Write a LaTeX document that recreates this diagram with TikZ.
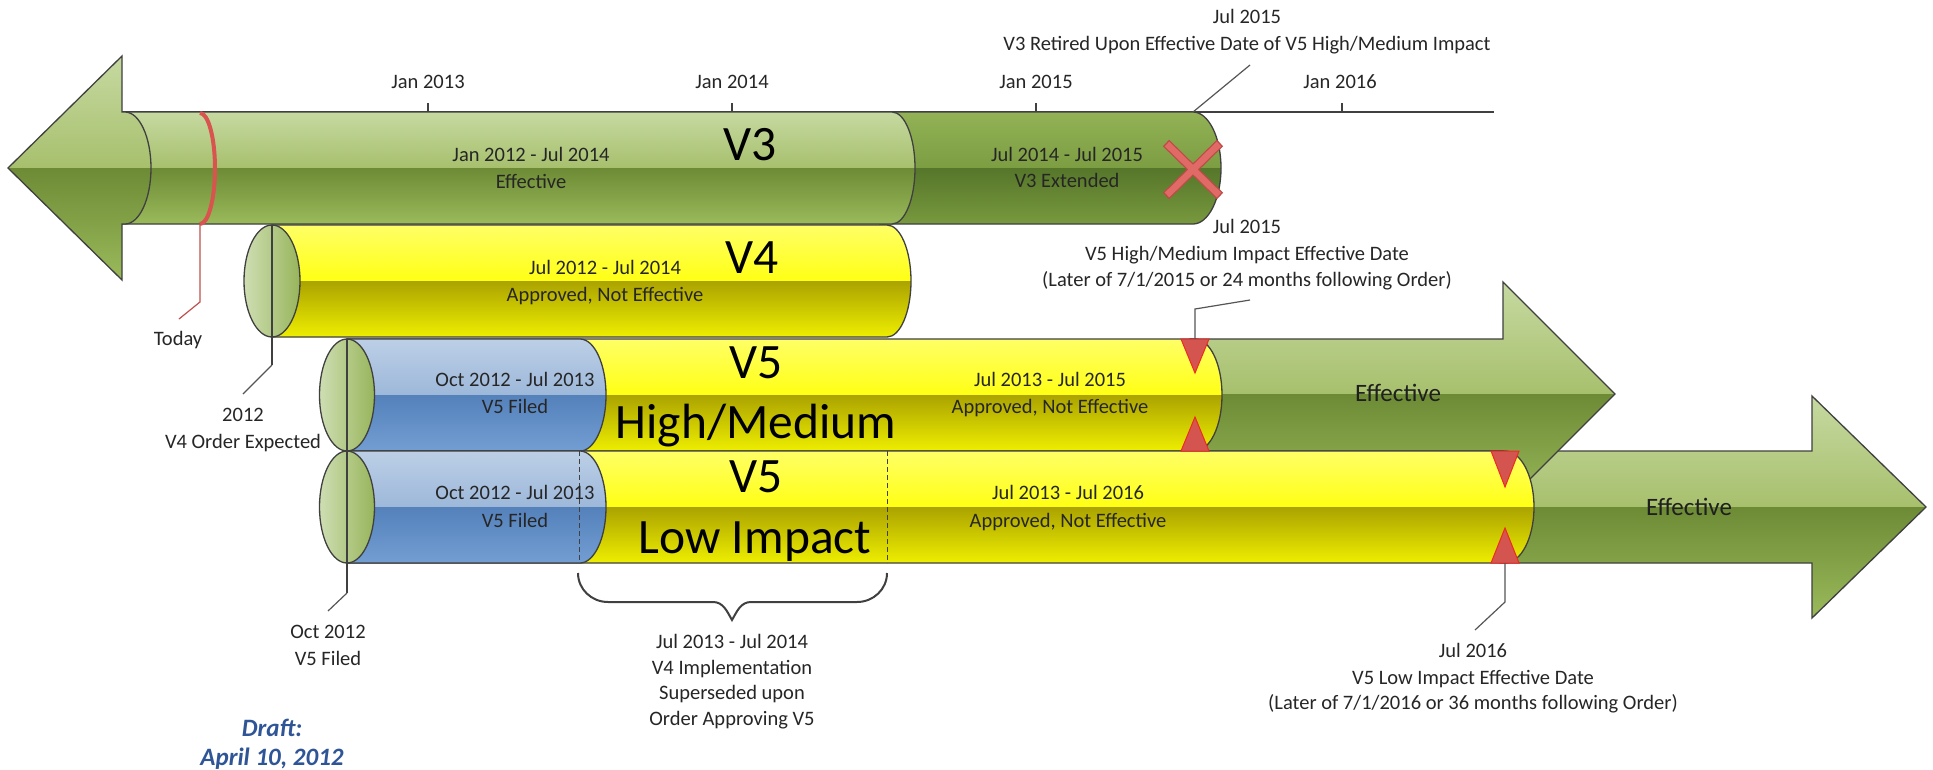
\documentclass[tikz,border=0pt]{standalone}
\usepackage{fontspec}
\setmainfont{Carlito}
\usetikzlibrary{calc}
\definecolor{outl}{HTML}{404040}
\definecolor{callc}{HTML}{555555}
\definecolor{txt}{HTML}{262626}
\definecolor{gA}{HTML}{C6D9A1}
\definecolor{gB}{HTML}{A7C06D}
\definecolor{gC}{HTML}{6D8B35}
\definecolor{gD}{HTML}{9ABA5B}
\definecolor{dA}{HTML}{93B256}
\definecolor{dB}{HTML}{7C9D42}
\definecolor{dC}{HTML}{56762A}
\definecolor{dD}{HTML}{78993E}
\definecolor{yA}{HTML}{FFFF66}
\definecolor{yB}{HTML}{FFFF14}
\definecolor{yC}{HTML}{ABA300}
\definecolor{yD}{HTML}{EEEE00}
\definecolor{bA}{HTML}{BCCFE6}
\definecolor{bB}{HTML}{9DB8DA}
\definecolor{bC}{HTML}{5581BB}
\definecolor{bD}{HTML}{729ED3}
\definecolor{capL}{HTML}{CFDEB3}
\definecolor{capR}{HTML}{97B55B}
\definecolor{redl}{HTML}{D9534F}
\definecolor{thinred}{HTML}{C0504D}
\definecolor{triF}{HTML}{D45550}
\definecolor{triD}{HTML}{EE2A24}
\definecolor{xF}{HTML}{E06A66}
\definecolor{xD}{HTML}{BF4A47}
\definecolor{draftc}{HTML}{2F5597}
\newcommand\fsmall{\fontsize{20.5}{25}\selectfont}
\newcommand\fbig{\fontsize{49.5}{58}\selectfont}
\newcommand\feff{\fontsize{25}{30}\selectfont}
\newcommand\fdraft{\fontsize{25}{30}\selectfont\bfseries\itshape}
% tube: path, ytop, ybot, 4 colours (top half top/bottom, bottom half top/bottom)
\newcommand\tube[7]{%
  \begin{scope}
    \clip #1;
    \shade[top color=#4,bottom color=#5] (0,#2) rectangle (1933,{(#2+#3)/2});
    \shade[top color=#6,bottom color=#7] (0,{(#2+#3)/2}) rectangle (1933,#3);
  \end{scope}
  \draw[outline] #1;}
\newcommand\txtat[4]{\node[lbl,anchor=base] (#1) at (#2,#3+6.6) {#4};}
\newcommand\bigat[4]{\node[bigl,anchor=base] (#1) at (#2,#3) {#4};}
\newcommand\effat[4]{\node[effl,anchor=base] (#1) at (#2,#3+8) {#4};}
\begin{document}
\begin{tikzpicture}[x=1pt,y=-1pt,
  outline/.style={draw=outl,line width=1.3pt},
  callout/.style={draw=callc,line width=1.2pt},
  lbl/.style={font=\fsmall,text=txt,inner sep=0pt},
  bigl/.style={font=\fbig,text=black,inner sep=0pt},
  effl/.style={font=\feff,text=black!88,inner sep=0pt},
  draftl/.style={font=\fdraft,text=draftc,inner sep=0pt},
  tri/.style={fill=triF,draw=triD,line width=1pt},
  dashv/.style={draw=outl,line width=1pt,dash pattern=on 5pt off 3pt}]
\useasboundingbox (0,0) rectangle (1933,769);
\fill[white] (0,0) rectangle (1933,769);

% ---------- time axis ----------
\coordinate (axL) at (122,112);
\coordinate (axR) at (1494,112);
\draw[outline] (axL) -- (axR);
\foreach \x in {428,732,1036,1342} \draw[outline] (\x,103) -- (\x,112);

% ---------- V3 ----------
\tube{(880,112) -- (1193,112) arc[start angle=-90,end angle=90,x radius=28,y radius=56] -- (880,224) -- cycle}{112}{224}{dA}{dB}{dC}{dD}
\tube{(122,112) -- (892,112) arc[start angle=-90,end angle=90,x radius=23,y radius=56] -- (122,224) -- cycle}{112}{224}{gA}{gB}{gC}{gD}
\tube{(8,168) -- (122,56) -- (122,112) -- (125,112) arc[start angle=-90,end angle=90,x radius=26,y radius=56] -- (122,224) -- (122,280) -- cycle}{56}{280}{gA}{gB}{gC}{gD}

% Today marker
\draw[redl,line width=4pt] (200,113) arc[start angle=-90,end angle=90,x radius=15,y radius=55.5];
\coordinate (todayA) at (200,224);
\coordinate (todayB) at (200,302);
\coordinate (todayC) at (179,319);
\draw[thinred,line width=1.2pt] (todayA) -- (todayB) -- (todayC);

% retired X
\draw[xD,line width=9pt] (1166,143) -- (1220,196) (1166,196) -- (1220,143);
\draw[xF,line width=6.5pt] (1167,144) -- (1219,195) (1167,195) -- (1219,144);

% ---------- V4 ----------
\tube{(272,225) -- (887,225) arc[start angle=-90,end angle=90,x radius=24,y radius=56] -- (272,337) -- cycle}{225}{337}{yA}{yB}{yC}{yD}
\shadedraw[left color=capL,right color=capR,outline] (272,281) ellipse[x radius=28,y radius=56];

% ---------- Effective arrows ----------
\tube{(1500,451) -- (1812,451) -- (1812,396) -- (1926,507) -- (1812,618) -- (1812,563) -- (1500,563) -- cycle}{396}{618}{gA}{gB}{gC}{gD}
\tube{(1190,339) -- (1503,339) -- (1503,282) -- (1615,394) -- (1503,506) -- (1503,451) -- (1190,451) -- cycle}{282}{506}{gA}{gB}{gC}{gD}

% ---------- V5 High/Medium ----------
\tube{(347,339) -- (1195,339) arc[start angle=-90,end angle=90,x radius=27,y radius=56] -- (347,451) -- cycle}{339}{451}{yA}{yB}{yC}{yD}
\tube{(347,339) -- (580,339) arc[start angle=-90,end angle=90,x radius=26,y radius=56] -- (347,451) -- cycle}{339}{451}{bA}{bB}{bC}{bD}
\shadedraw[left color=capL,right color=capR,outline] (347,395) ellipse[x radius=27.5,y radius=56];

% ---------- V5 Low Impact ----------
\tube{(347,451) -- (1505,451) arc[start angle=-90,end angle=90,x radius=29,y radius=56] -- (347,563) -- cycle}{451}{563}{yA}{yB}{yC}{yD}
\tube{(347,451) -- (580,451) arc[start angle=-90,end angle=90,x radius=26,y radius=56] -- (347,563) -- cycle}{451}{563}{bA}{bB}{bC}{bD}
\shadedraw[left color=capL,right color=capR,outline] (347,507) ellipse[x radius=27.5,y radius=56];

% dashed marks
\draw[dashv] (579,451) -- (579,563);
\draw[dashv] (887,451) -- (887,563);

% triangles
\draw[tri] (1181,339) -- (1209,339) -- (1195,373) -- cycle;
\draw[tri] (1181,451) -- (1209,451) -- (1195,417) -- cycle;
\draw[tri] (1491,451) -- (1519,451) -- (1505,487) -- cycle;
\draw[tri] (1491,563) -- (1519,563) -- (1505,528) -- cycle;

% ---------- callout lines ----------
\coordinate (v4top) at (272,225);
\coordinate (v4knee) at (272,365);
\coordinate (v4end) at (243,394);
\draw[outline,line width=1.2pt] (v4top) -- (v4knee);
\draw[callout] (v4knee) -- (v4end);
\coordinate (v5top) at (347,339);
\coordinate (v5knee) at (347,593);
\coordinate (v5end) at (328,611);
\draw[outline,line width=1.2pt] (v5top) -- (v5knee);
\draw[callout] (v5knee) -- (v5end);
\coordinate (retA) at (1193,112);
\coordinate (retB) at (1250,65);
\draw[callout] (retA) -- (retB);
\coordinate (hmA) at (1195,339);
\coordinate (hmB) at (1195,309);
\coordinate (hmC) at (1250,300);
\draw[callout] (hmA) -- (hmB) -- (hmC);
\coordinate (lwA) at (1505,563);
\coordinate (lwB) at (1505,602);
\coordinate (lwC) at (1475,630);
\draw[callout] (lwA) -- (lwB) -- (lwC);

% brace
\coordinate (brL) at (578,573);
\coordinate (brR) at (887,573);
\coordinate (brT) at (732,620);
\draw[draw=outl,line width=2pt] (brL) to[out=-90,in=180] (608,602) -- (713,602) to[out=0,in=120] (brT)
  to[out=60,in=180] (751,602) -- (857,602) to[out=0,in=-90] (brR);

% ---------- texts ----------
\txtat{j13}{428}{82}{Jan 2013}
\txtat{j14}{732}{82}{Jan 2014}
\txtat{j15}{1036}{82}{Jan 2015}
\txtat{j16}{1340}{82}{Jan 2016}
\txtat{ra}{1247}{17}{Jul 2015}
\txtat{rb}{1247}{44}{V3 Retired Upon Effective Date of V5 High/Medium Impact}

\bigat{v3}{750}{160}{V3}
\txtat{v3a}{531}{155}{Jan 2012 - Jul 2014}
\txtat{v3b}{531}{182}{Effective}
\txtat{v3c}{1067}{155}{Jul 2014 - Jul 2015}
\txtat{v3d}{1067}{181}{V3 Extended}

\bigat{v4}{752}{273}{V4}
\txtat{v4a}{605}{268}{Jul 2012 - Jul 2014}
\txtat{v4b}{605}{295}{Approved, Not Effective}

\txtat{today}{178}{339}{Today}
\txtat{o1}{243}{415}{2012}
\txtat{o2}{243}{442}{V4 Order Expected}

\txtat{h1}{515}{380}{Oct 2012 - Jul 2013}
\txtat{h2}{515}{407}{V5 Filed}
\bigat{h3}{756}{378}{V5}
\bigat{h4}{756}{438}{High/Medium}
\txtat{h5}{1050}{380}{Jul 2013 - Jul 2015}
\txtat{h6}{1050}{407}{Approved, Not Effective}
\effat{h7}{1398}{393}{Effective}

\txtat{l1}{515}{493}{Oct 2012 - Jul 2013}
\txtat{l2}{515}{521}{V5 Filed}
\bigat{l3}{756}{492}{V5}
\bigat{l4}{755}{553}{Low Impact}
\txtat{l5}{1068}{493}{Jul 2013 - Jul 2016}
\txtat{l6}{1068}{521}{Approved, Not Effective}
\effat{l7}{1689}{507}{Effective}

\txtat{m1}{1247}{227}{Jul 2015}
\txtat{m2}{1247}{254}{V5 High/Medium Impact Effective Date}
\txtat{m3}{1247}{280}{(Later of 7/1/2015 or 24 months following Order)}

\txtat{n1}{1473}{651}{Jul 2016}
\txtat{n2}{1473}{678}{V5 Low Impact Effective Date}
\txtat{n3}{1473}{703}{(Later of 7/1/2016 or 36 months following Order)}

\txtat{p1}{328}{632}{Oct 2012}
\txtat{p2}{328}{659}{V5 Filed}

\txtat{b1}{732}{642}{Jul 2013 - Jul 2014}
\txtat{b2}{732}{668}{V4 Implementation}
\txtat{b3}{732}{693}{Superseded upon}
\txtat{b4}{732}{719}{Order Approving V5}

\node[draftl,anchor=base] (dr1) at (272,736) {Draft:};
\node[draftl,anchor=base] (dr2) at (272,765) {April 10, 2012};
\end{tikzpicture}
\end{document}
